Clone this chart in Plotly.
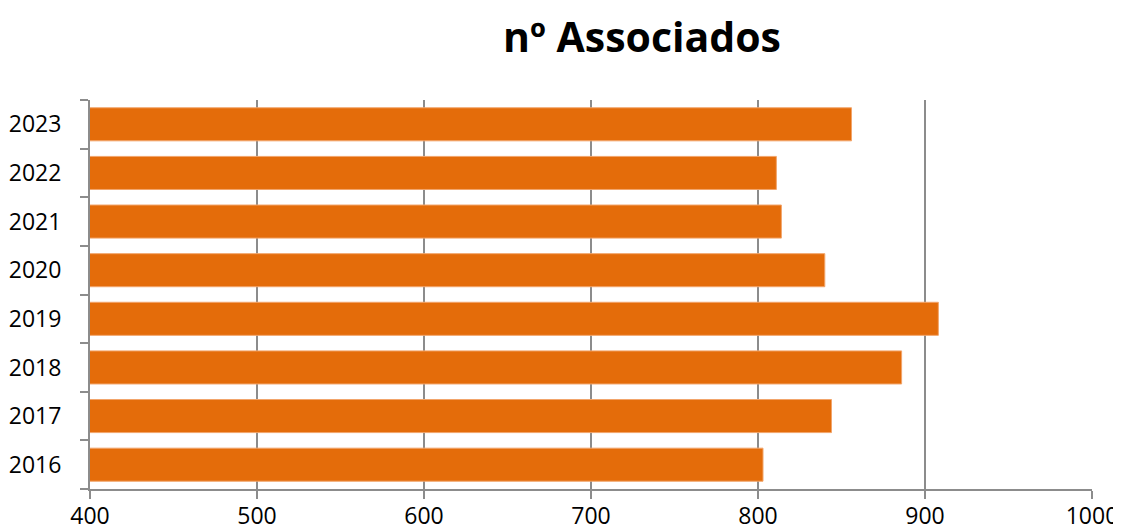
import plotly.graph_objects as go

years = ["2016", "2017", "2018", "2019", "2020", "2021", "2022", "2023"]
associados = [803, 844, 886, 908, 840, 814, 811, 856]
x_ticks = [400, 500, 600, 700, 800, 900, 1000]

# page body has an 8px default margin, so the figure is sized to fit the window
W, H = 1113, 524

fig = go.Figure(go.Bar(
    y=years, x=associados, orientation="h",
    marker=dict(color="#E46C0A", line=dict(color="#F2A56B", width=1)),
))

fig.update_layout(
    width=W, height=H,
    margin=dict(l=82, r=29, t=92, b=43, autoexpand=False),
    paper_bgcolor="white", plot_bgcolor="white",
    bargap=0.32,
    showlegend=False,
    font=dict(family="Open Sans", color="black", size=23),
    title=dict(text="<b>nº Associados</b>", x=634/W, xanchor="center",
               y=1 - 30/H, yanchor="middle", xref="container", yref="container",
               font=dict(size=41, family="Open Sans", color="black")),
)
fig.update_xaxes(
    range=[400, 1000], tickvals=x_ticks, showgrid=True, gridcolor="#8C8C8C", gridwidth=2,
    showline=True, linecolor="#8C8C8C", linewidth=2, ticks="outside", ticklen=8,
    tickcolor="#8C8C8C", tickwidth=2, zeroline=False, ticklabelstandoff=-3,
    automargin=False,
)
fig.update_yaxes(
    type="category", categoryorder="array", categoryarray=years,
    showline=True, linecolor="#8C8C8C", linewidth=2, ticks="outside", ticklen=8,
    tickcolor="#8C8C8C", tickwidth=2, tickson="boundaries", showgrid=False,
    ticklabelstandoff=22, automargin=False,
)

fig.write_html("out.html")
